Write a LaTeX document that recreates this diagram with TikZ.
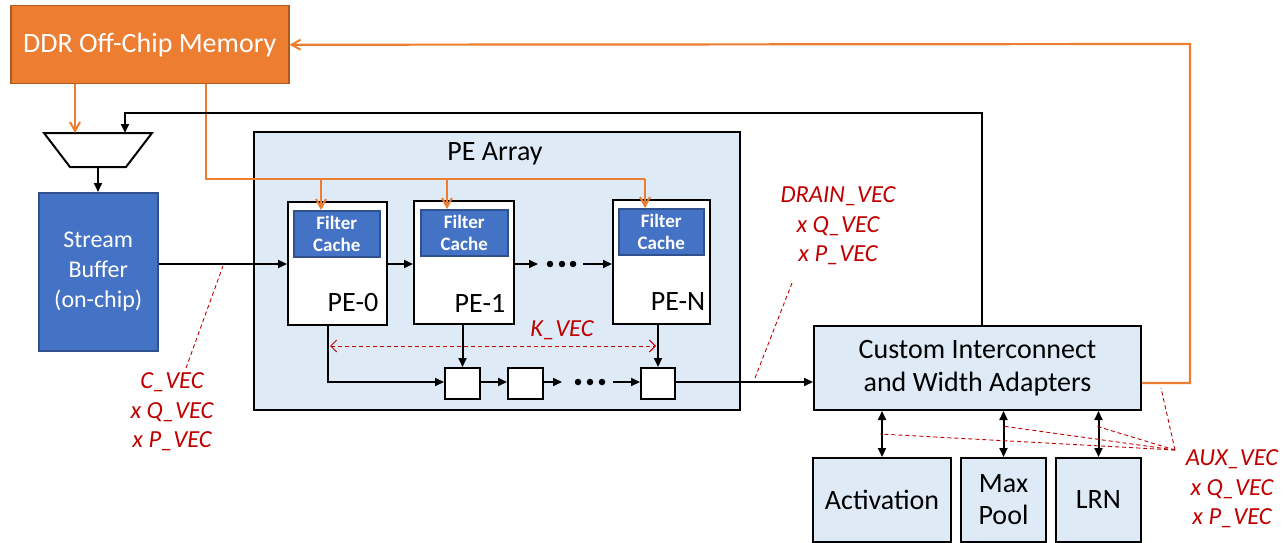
\documentclass[tikz,border=0pt]{standalone}
\usepackage{fontspec}
\setmainfont{Carlito}
\usetikzlibrary{arrows.meta}
\definecolor{ddrfill}{HTML}{ED7D31}
\definecolor{ddredge}{HTML}{AE5A21}
\definecolor{bufill}{HTML}{4472C4}
\definecolor{buedge}{HTML}{2F528F}
\definecolor{pale}{HTML}{DEEBF7}
\definecolor{note}{HTML}{C00000}
\tikzset{
  fsz/.style={font=\fontsize{#1pt}{\dimexpr #1pt*6/5\relax}\selectfont},
  blk/.style={draw=black, line width=2pt, anchor=north west, inner sep=0pt},
  palebox/.style={blk, fill=pale},
  pebox/.style={blk, fill=white},
  regbox/.style={blk, fill=white, minimum width=35, minimum height=31},
  cachebox/.style={draw=buedge, fill=bufill, line width=1.5pt, anchor=north west,
    inner sep=0pt, text=white, align=center,
    font=\fontsize{19pt}{22pt}\selectfont\bfseries, minimum width=86, minimum height=46},
  wire/.style={draw=black, line width=2pt},
  warrow/.style={wire, -{Triangle[length=9pt,width=8pt]}},
  dwarrow/.style={wire, {Triangle[length=9pt,width=8pt]}-{Triangle[length=9pt,width=8pt]}},
  owire/.style={draw=ddrfill, line width=2.2pt},
  oarrow/.style={owire, -{Straight Barb[length=9pt,width=10pt,line width=2pt]}},
  leader/.style={draw=note, line width=0.9pt, dash pattern=on 4pt off 3pt},
  redlbl/.style={text=note, align=center, font=\fontsize{24.5pt}{29.5pt}\selectfont\itshape, inner sep=0pt},
  dot/.style={circle, fill=black, inner sep=0pt, minimum size=6.5pt},
}
\begin{document}
\begin{tikzpicture}[x=1pt,y=-1pt]
\useasboundingbox (0,0) rectangle (1288,543);

% memory, input selector and stream buffer
\node[draw=ddredge, fill=ddrfill, line width=1.5pt, anchor=north west, inner sep=0pt,
      minimum width=278, minimum height=78, text=white, fsz=28] (ddr) at (10,5) {DDR Off-Chip Memory};
\coordinate (muxA) at (75,133);
\coordinate (muxB) at (125,133);
\coordinate (muxOut) at (98,167);
\draw[draw=black, line width=2pt, fill=white, line join=miter]
      (44,133) -- (152,133) -- (126,167) -- (70,167) -- cycle;
\node[draw=buedge, fill=bufill, line width=1.5pt, anchor=north west, inner sep=0pt,
      minimum width=119, minimum height=158, text=white, align=center,
      font=\fontsize{24pt}{30pt}\selectfont] (sb) at (38,192)
      {Stream\\Buffer\\(on-chip)};

% PE array
\node[palebox, minimum width=486, minimum height=278] (pea) at (253,131) {};
\node[fsz=28] (peat) at (495,154) {PE Array};

\node[pebox, minimum width=99, minimum height=123] (pe0) at (287,201) {};
\node[pebox, minimum width=100, minimum height=123] (pe1) at (413,200) {};
\node[pebox, minimum width=97, minimum height=124] (peN) at (612,199) {};
\node[cachebox] (fc0) at (293,210) {Filter\\Cache};
\node[cachebox, minimum width=87] (fc1) at (420,209) {Filter\\Cache};
\node[cachebox, minimum width=85] (fcN) at (618,208) {Filter\\Cache};
\node[fsz=28, inner sep=0pt] (pe0t) at (353,303) {PE-0};
\node[fsz=28, inner sep=0pt] (pe1t) at (480,303) {PE-1};
\node[fsz=28, inner sep=0pt] (peNt) at (678,302) {PE-N};

\node[regbox] (r1) at (444,367) {};
\node[regbox] (r2) at (507,367) {};
\node[regbox, minimum width=34] (r3) at (640,367) {};

% interconnect and auxiliary units
\node[palebox, minimum width=327, minimum height=84, align=center,
      font=\fontsize{28pt}{33pt}\selectfont] (cust) at (813,325)
      {Custom Interconnect\\and Width Adapters};
\node[palebox, minimum width=138, minimum height=84, fsz=28] (act) at (812,457) {Activation};
\node[palebox, minimum width=85, minimum height=84, align=center,
      font=\fontsize{28pt}{32pt}\selectfont] (mp) at (960,457) {Max\\Pool};
\node[palebox, minimum width=85, minimum height=84, fsz=28] (lrn) at (1055,457) {LRN};

% routing coordinates
\coordinate (fb) at (982,113);
\coordinate (oturn) at (1190,44);
\coordinate (ocorner) at (1190,383);
\coordinate (fl) at (206,179);
\coordinate (f0) at (321,179);
\coordinate (f1) at (447,179);
\coordinate (f2) at (645,179);
\coordinate (row) at (0,264);
\coordinate (d0) at (328,382);
\coordinate (dotsA) at (538,264);
\coordinate (dotsB) at (583,264);
\coordinate (dotsC) at (562,382);
\coordinate (dotsD) at (613,382);

% memory traffic
\draw[oarrow] (muxA |- ddr.south) -- (muxA);
\draw[owire] (fl |- ddr.south) -- (fl) -- (f2);
\draw[oarrow] (f0) -- (f0 |- fc0.north);
\draw[oarrow] (f1) -- (f1 |- fc1.north);
\draw[oarrow] (f2) -- (f2 |- fcN.north);
\draw[oarrow] (cust.east |- ocorner) -- (ocorner) -- (oturn) -- (ddr.east);

% feedback path and data flow
\draw[warrow, line width=2.5pt] (fb |- cust.north) -- (fb) -| (muxB);
\draw[warrow] (muxOut) -- (sb.north -| muxOut);
\draw[warrow] (sb.east |- row) -- (pe0.west |- row);
\draw[warrow] (pe0.east |- row) -- (pe1.west |- row);
\draw[warrow] (pe1.east |- row) -- (dotsA);
\node[dot] (da1) at (550,264) {};
\node[dot] (da2) at (562,264) {};
\node[dot] (da3) at (573,264) {};
\draw[warrow] (dotsB) -- (peN.west |- row);

\draw[warrow] (d0 |- pe0.south) -- (d0) -- (r1.west |- d0);
\draw[warrow] (r1.north |- pe1.south) -- (r1.north);
\draw[warrow] (r3.north |- peN.south) -- (r3.north);
\draw[warrow] (r1.east |- d0) -- (r2.west |- d0);
\draw[warrow] (r2.east |- d0) -- (dotsC);
\node[dot] (db1) at (578,382) {};
\node[dot] (db2) at (590,382) {};
\node[dot] (db3) at (602,382) {};
\draw[warrow] (dotsD) -- (r3.west |- d0);
\draw[warrow] (r3.east |- d0) -- (cust.west |- d0);

\draw[dwarrow] (act.north) -- (act.north |- cust.south);
\draw[dwarrow] (mp.north) -- (mp.north |- cust.south);
\draw[dwarrow] (lrn.north) -- (lrn.north |- cust.south);

% vectorisation annotations
\coordinate (k0) at (330,346);
\coordinate (k1) at (656,346);
\draw[leader, {Straight Barb[length=6pt,width=12pt,line width=0.9pt]}-{Straight Barb[length=6pt,width=12pt,line width=0.9pt]}] (k0) -- (k1);
\node[redlbl] (kvec) at (562,330) {K\_VEC};

\node[redlbl] (cvec) at (172,412) {C\_VEC\\x Q\_VEC\\x P\_VEC};
\coordinate (c0) at (186,368);
\coordinate (c1) at (223,266);
\draw[leader] (c0) -- (c1);

\node[redlbl] (dvec) at (838,226) {DRAIN\_VEC\\x Q\_VEC\\x P\_VEC};
\coordinate (e0) at (792,283);
\coordinate (e1) at (755,378);
\draw[leader] (e0) -- (e1);

\node[redlbl] (avec) at (1232,489) {AUX\_VEC\\x Q\_VEC\\x P\_VEC};
\coordinate (a0) at (1175,450);
\coordinate (a1) at (880,434);
\coordinate (a2) at (1002,426);
\coordinate (a3) at (1096,426);
\coordinate (a4) at (1161,388);
\draw[leader] (a0) -- (a1);
\draw[leader] (a0) -- (a2);
\draw[leader] (a0) -- (a3);
\draw[leader] (a0) -- (a4);
\end{tikzpicture}
\end{document}
